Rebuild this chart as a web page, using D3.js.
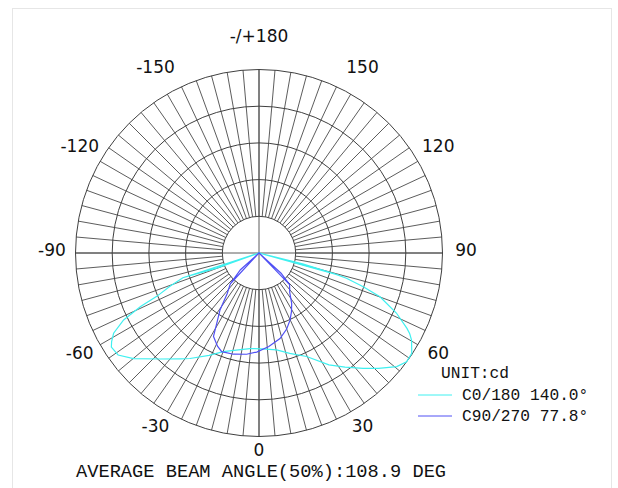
<!DOCTYPE html>
<html>
<head>
<meta charset="utf-8">
<script src="https://cdn.jsdelivr.net/npm/d3@7"></script>
<style>
  body { margin: 0; background: #fff; }
  svg { display: block; }
</style>
</head>
<body>
<svg id="chart" width="618" height="488"></svg>
<script>
// 角度ラベル(30度ごと)
var angleTicks = [0, 30, 60, 90, 120, 150, 180, -150, -120, -90, -60, -30];
var angleLabels = ["0", "30", "60", "90", "120", "150", "-/+180", "-150", "-120", "-90", "-60", "-30"];
// 同心円の値 (外周 = 100)
var ringValues = [20, 40, 60, 80, 100];
// C0/180 の配光 (角度, 光度) 描画順
var c0Angles = [-72, 0, -70.3, -72, -69.5, -67, -65.7, -63.7, -61.1, -59, -57.5, -54.1, -49.9, -43, -36.7, -33.2, -26, -19.9, -12, -5.4, 2, 10.3, 17, 24.7, 32, 37, 42.1, 46, 50.5, 53.6, 56.7, 60.3, 61.8, 63, 66.4, 70.1, 72.1, 73.9, 74.5, 0, 76, 74.5];
var c0Values = [43.6, 0, 24.5, 43.6, 51.8, 60.5, 70.8, 82.3, 90.5, 93.7, 95.4, 94.8, 89.4, 79, 71.9, 68.7, 62.1, 57.2, 54, 52.3, 52.3, 53.7, 57.2, 62.1, 71.9, 77.9, 84.7, 90.5, 97.3, 99.9, 99.6, 95.7, 93.2, 90.5, 81.7, 70.1, 59.7, 49.6, 43.6, 0, 24.5, 43.6];
// C90/270 の配光 (角度, 光度) 描画順
var c90Angles = [-43, 0, -48, -43, -38, -34.4, -31, -28.6, -24, -20.7, -14.2, -7, -1.3, 6, 13.8, 20, 24.8, 29, 33, 38, 44, 0, 47.5, 44];
var c90Values = [22.9, 0, 13.6, 22.9, 28.3, 37.6, 44.7, 51.8, 55.6, 57.5, 56.9, 55.6, 54, 51.2, 48, 44.1, 40.3, 36.5, 32.7, 27.2, 24, 0, 16.3, 24];
// 凡例
var legendNames = ["C0/180 140.0°", "C90/270 77.8°"];
var seriesColors = ["#3ff0f0", "#5050f4"];
var unitLabel = "UNIT:cd";
var beamText = "AVERAGE BEAM ANGLE(50%):108.9 DEG";

var cx = 259;
var cy = 253;
var outerR = 183.5;

var svg = d3.select("#chart");

// 外枠
svg
  .append("rect")
  .attr("x", 12.5)
  .attr("y", 8.5)
  .attr("width", 599)
  .attr("height", 500)
  .attr("fill", "none")
  .attr("stroke", "#e6e6e6");

var rScale = d3.scaleLinear().domain([0, 100]).range([0, outerR]);
// ガンマ角(下が0, 右回りが正)をd3の角度に変換
function toRad(g) {
  return ((180 - g) * Math.PI) / 180;
}

var g = svg.append("g").attr("transform", `translate(${cx},${cy})`);

// 5度ごとの放射線 (内側の円から外周まで)
var spokes = d3.range(0, 360, 5);
g.selectAll(".spoke")
  .data(spokes)
  .enter()
  .append("line")
  .attr("class", "spoke")
  .attr("x1", (d) => rScale(ringValues[0]) * Math.sin(toRad(d)))
  .attr("y1", (d) => -rScale(ringValues[0]) * Math.cos(toRad(d)))
  .attr("x2", (d) => rScale(100) * Math.sin(toRad(d)))
  .attr("y2", (d) => -rScale(100) * Math.cos(toRad(d)))
  .attr("stroke", "#4a4a4a")
  .attr("stroke-width", 0.9);

// 中心を通る縦横の線
g.selectAll(".axisLine")
  .data([0, 90])
  .enter()
  .append("line")
  .attr("class", "axisLine")
  .attr("x1", (d) => -rScale(100) * Math.sin(toRad(d)))
  .attr("y1", (d) => rScale(100) * Math.cos(toRad(d)))
  .attr("x2", (d) => rScale(100) * Math.sin(toRad(d)))
  .attr("y2", (d) => -rScale(100) * Math.cos(toRad(d)))
  .attr("stroke", "#4a4a4a")
  .attr("stroke-width", 0.9);

// 同心円
g.selectAll(".ring")
  .data(ringValues)
  .enter()
  .append("circle")
  .attr("class", "ring")
  .attr("r", (d) => rScale(d))
  .attr("fill", "none")
  .attr("stroke", "#404040")
  .attr("stroke-width", 1);

// 角度ラベル (横向きのラベルは少し下げる)
var labelR = 207;
g.selectAll(".angleLabel")
  .data(angleTicks)
  .enter()
  .append("text")
  .attr("class", "angleLabel")
  .attr("x", (d) => labelR * Math.sin(toRad(d)))
  .attr("y", (d) => -labelR * Math.cos(toRad(d)) - 10 + 7 * Math.abs(Math.sin(toRad(d))))
  .attr("text-anchor", "middle")
  .attr("dominant-baseline", "central")
  .attr("font-family", "DejaVu Sans")
  .attr("font-size", "17px")
  .attr("fill", "#111")
  .text((d, i) => angleLabels[i]);

// 配光曲線
var line = d3
  .lineRadial()
  .angle((d) => toRad(d[0]))
  .radius((d) => rScale(d[1]));

var series = [
  d3.zip(c0Angles, c0Values),
  d3.zip(c90Angles, c90Values),
];
g.selectAll(".curve")
  .data(series)
  .enter()
  .append("path")
  .attr("class", "curve")
  .attr("d", line)
  .attr("fill", "none")
  .attr("stroke", (d, i) => seriesColors[i])
  .attr("stroke-width", 1.2);

// 凡例
svg
  .append("text")
  .attr("x", 441)
  .attr("y", 378)
  .attr("font-family", "Liberation Mono")
  .attr("font-size", "16.2px")
  .attr("fill", "#111")
  .text(unitLabel);

var legend = svg
  .selectAll(".legendItem")
  .data(legendNames)
  .enter()
  .append("g")
  .attr("class", "legendItem")
  .attr("transform", (d, i) => `translate(418,${395 + i * 21})`);
legend
  .append("line")
  .attr("x1", 0)
  .attr("x2", 34)
  .attr("stroke", (d, i) => seriesColors[i])
  .attr("stroke-width", 1);
legend
  .append("text")
  .attr("x", 44)
  .attr("y", 5)
  .attr("font-family", "Liberation Mono")
  .attr("font-size", "16.2px")
  .attr("fill", "#111")
  .text((d) => d);

// 平均ビーム角
svg
  .append("text")
  .attr("x", 76)
  .attr("y", 476.5)
  .attr("font-family", "Liberation Mono")
  .attr("font-size", "18.7px")
  .attr("fill", "#111")
  .text(beamText);
</script>
</body>
</html>
